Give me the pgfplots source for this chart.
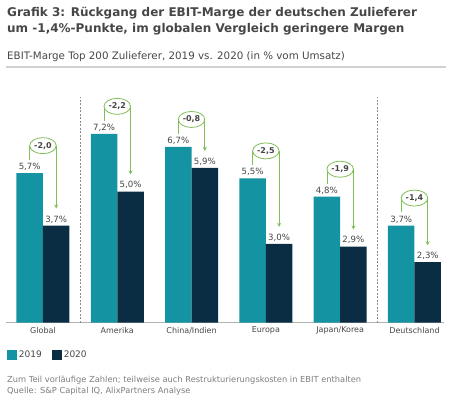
\documentclass[border=0pt]{standalone}
\usepackage{fontspec}
\setmainfont{DejaVu Sans}
\usepackage{pgfplots}
\pgfplotsset{compat=1.18}
\usetikzlibrary{shapes.geometric,arrows.meta}
\definecolor{teal1}{RGB}{20,148,162}
\definecolor{dark1}{RGB}{10,45,68}
\definecolor{grn}{RGB}{128,190,88}
\definecolor{txt}{RGB}{70,70,70}
\definecolor{foot}{RGB}{125,125,125}
\newcommand{\ann}[4]{%
  \draw[grn, line width=0.8pt] ([xshift=-13.25pt]axis cs:#1,#2+0.5) -- ([xshift=-13.25pt]axis cs:#1,#2+1.05);
  \node[ellipse, draw=grn, line width=0.8pt, fill=white, minimum width=26.5pt, minimum height=16pt, inner sep=0pt, font=\bfseries\fontsize{8}{9}\selectfont, text=txt] at (axis cs:#1,#2+1.05) {#4};
  \draw[grn, line width=0.8pt, -{Stealth[length=4pt,width=4pt]}] ([xshift=13.25pt]axis cs:#1,#2+1.05) -- ([xshift=13.25pt]axis cs:#1,#3+0.65);
}
\begin{document}
\begin{tikzpicture}
\useasboundingbox (0,0) rectangle (452pt,399pt);
% titles
\node[anchor=west, font=\bfseries\fontsize{12}{14}\selectfont, text=txt, inner sep=0] at (7pt,386pt) {Grafik 3: Rückgang der EBIT-Marge der deutschen Zulieferer};
\node[anchor=west, font=\bfseries\fontsize{12}{14}\selectfont, text=txt, inner sep=0] at (7pt,370pt) {um -1,4\%-Punkte, im globalen Vergleich geringere Margen};
\node[anchor=west, font=\fontsize{10.3}{12}\selectfont, text=txt, inner sep=0] at (7pt,342pt) {EBIT-Marge Top 200 Zulieferer, 2019 vs. 2020 (in \% vom Umsatz)};
\fill[black!18] (6pt,330.5pt) rectangle (446pt,333pt);
% footnote
\node[anchor=west, font=\fontsize{8.3}{10}\selectfont, text=foot, inner sep=0] at (7pt,19pt) {Zum Teil vorläufige Zahlen; teilweise auch Restrukturierungskosten in EBIT enthalten};
\node[anchor=west, font=\fontsize{8.3}{10}\selectfont, text=foot, inner sep=0] at (7pt,8pt) {Quelle: S\&P Capital IQ, AlixPartners Analyse};
\begin{axis}[
  at={(5.8pt,76.5pt)}, anchor=south west,
  width=438.4pt, height=235.8pt, scale only axis,
  xmin=-0.5, xmax=5.4, ymin=0, ymax=9,
  axis y line=none, axis x line*=bottom,
  x axis line style={draw=black!30, line width=0.8pt, -},
  ybar, bar width=26.5pt,
  xtick=data, xticklabels={Global,Amerika,China/Indien,Europa,Japan/Korea,Deutschland},
  major tick length=0pt,
  xticklabel style={font=\fontsize{8}{9}\selectfont, text=txt, yshift=-1pt},
  clip=false,
  nodes near coords, point meta=explicit symbolic,
  every node near coord/.append style={font=\fontsize{8.6}{10}\selectfont, text=txt, yshift=-1pt},
  legend style={at={(axis description cs:0.002,-0.138)}, anchor=west, draw=none, fill=none, legend columns=2,
    font=\fontsize{9}{10}\selectfont, text=txt, inner sep=0pt,
    /tikz/every even column/.append style={column sep=8pt}},
  legend image code/.code={\fill (0pt,-5pt) rectangle (10pt,5pt);},
]
\addplot[fill=teal1, draw=none, bar shift=-13.25pt] coordinates {
  (0,5.7)[5,7\%] (1,7.2)[7,2\%] (2,6.7)[6,7\%] (3,5.5)[5,5\%] (4,4.8)[4,8\%] (5,3.7)[3,7\%]};
\addplot[fill=dark1, draw=none, bar shift=13.25pt] coordinates {
  (0,3.7)[3,7\%] (1,5.0)[5,0\%] (2,5.9)[5,9\%] (3,3.0)[3,0\%] (4,2.9)[2,9\%] (5,2.3)[2,3\%]};
\legend{2019,2020}
\draw[black!45, line width=0.7pt, dash pattern=on 2pt off 1.5pt] (axis cs:0.5,0) -- (axis cs:0.5,8.6);
\draw[black!45, line width=0.7pt, dash pattern=on 2pt off 1.5pt] (axis cs:4.5,0) -- (axis cs:4.5,8.6);
\ann{0}{5.7}{3.7}{-2,0}
\ann{1}{7.2}{5.0}{-2,2}
\ann{2}{6.7}{5.9}{-0,8}
\ann{3}{5.5}{3.0}{-2,5}
\ann{4}{4.8}{2.9}{-1,9}
\ann{5}{3.7}{2.3}{-1,4}
\end{axis}
\end{tikzpicture}
\end{document}
